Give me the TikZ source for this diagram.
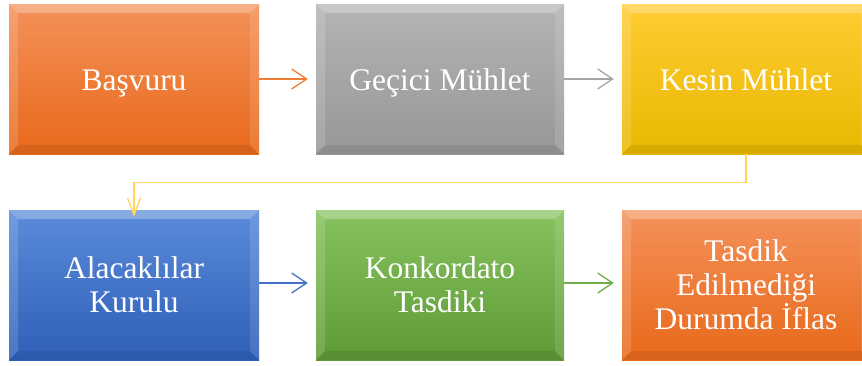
\documentclass[tikz,border=0pt]{standalone}
\usepackage{fontspec}
\setmainfont{Liberation Serif}
\usetikzlibrary{arrows.meta,calc}
\definecolor{orT}{HTML}{F4915A}\definecolor{orB}{HTML}{E8691A}
\definecolor{grT}{HTML}{B4B4B4}\definecolor{grB}{HTML}{979797}
\definecolor{yeT}{HTML}{FFCC33}\definecolor{yeB}{HTML}{E9B800}
\definecolor{blT}{HTML}{5B8BD9}\definecolor{blB}{HTML}{2F5FB8}
\definecolor{gnT}{HTML}{86C25E}\definecolor{gnB}{HTML}{5E9A36}
\definecolor{orA}{HTML}{ED7D31}\definecolor{grA}{HTML}{A5A5A5}
\definecolor{yeA}{HTML}{FFD55A}\definecolor{blA}{HTML}{4472C4}
\definecolor{gnA}{HTML}{70AD47}
\tikzset{
  stepbox/.style={minimum width=250pt,minimum height=150pt,inner sep=0pt,
    align=center,text=white,font=\fontsize{31.5}{34}\selectfont,
    path picture={
      \fill[white,opacity=0.28] (path picture bounding box.north west) -- (path picture bounding box.north east)
        -- ([xshift=-9pt,yshift=-9pt]path picture bounding box.north east) -- ([xshift=9pt,yshift=-9pt]path picture bounding box.north west) -- cycle;
      \fill[white,opacity=0.15] (path picture bounding box.north west) -- ([xshift=9pt,yshift=-9pt]path picture bounding box.north west)
        -- ([xshift=9pt,yshift=9pt]path picture bounding box.south west) -- (path picture bounding box.south west) -- cycle;
      \fill[white,opacity=0.12] (path picture bounding box.north east) -- ([xshift=-9pt,yshift=-9pt]path picture bounding box.north east)
        -- ([xshift=-9pt,yshift=9pt]path picture bounding box.south east) -- (path picture bounding box.south east) -- cycle;
      \fill[black,opacity=0.07] (path picture bounding box.south west) -- ([xshift=9pt,yshift=9pt]path picture bounding box.south west)
        -- ([xshift=-9pt,yshift=9pt]path picture bounding box.south east) -- (path picture bounding box.south east) -- cycle;
    }},
  oneline/.style={text height=22pt,text depth=0pt},
  conn/.style={line width=1.3pt,-{Straight Barb[length=15pt,width=20pt,line width=1.3pt]}},
  elbconn/.style={line width=1.3pt,-{Straight Barb[length=17pt,width=13pt,line width=1.3pt]}},
}
\begin{document}
\begin{tikzpicture}[x=1pt,y=-1pt]
\useasboundingbox (0,0) rectangle (862,365);
\node[stepbox,oneline,top color=orT,bottom color=orB] (b1) at (134,79) {Başvuru};
\node[stepbox,oneline,minimum width=248pt,top color=grT,bottom color=grB] (b2) at (440,79) {Geçici Mühlet};
\node[stepbox,oneline,minimum width=248pt,top color=yeT,bottom color=yeB] (b3) at (746,79) {Kesin Mühlet};
\node[stepbox,top color=blT,bottom color=blB] (b4) at (134,285) {Alacaklılar\\Kurulu};
\node[stepbox,minimum width=248pt,top color=gnT,bottom color=gnB] (b5) at (440,285) {Konkordato\\Tasdiki};
\node[stepbox,minimum width=248pt,top color=orT,bottom color=orB] (b6) at (746,285) {Tasdik\\Edilmediği\\Durumda İflas};
\draw[conn,orA] (b1.east) -- ([xshift=-8pt]b2.west);
\draw[conn,grA] (b2.east) -- ([xshift=-8pt]b3.west);
\draw[conn,blA] ([yshift=2pt]b4.east) -- ([xshift=-8pt,yshift=2pt]b5.west);
\draw[conn,gnA] ([yshift=2pt]b5.east) -- ([xshift=-8pt,yshift=2pt]b6.west);
\coordinate (elb) at ($(b3.south)+(0,28)$);
\draw[elbconn,yeA] (b3.south) -- (elb) -| ([yshift=-7pt]b4.north);
\end{tikzpicture}
\end{document}
